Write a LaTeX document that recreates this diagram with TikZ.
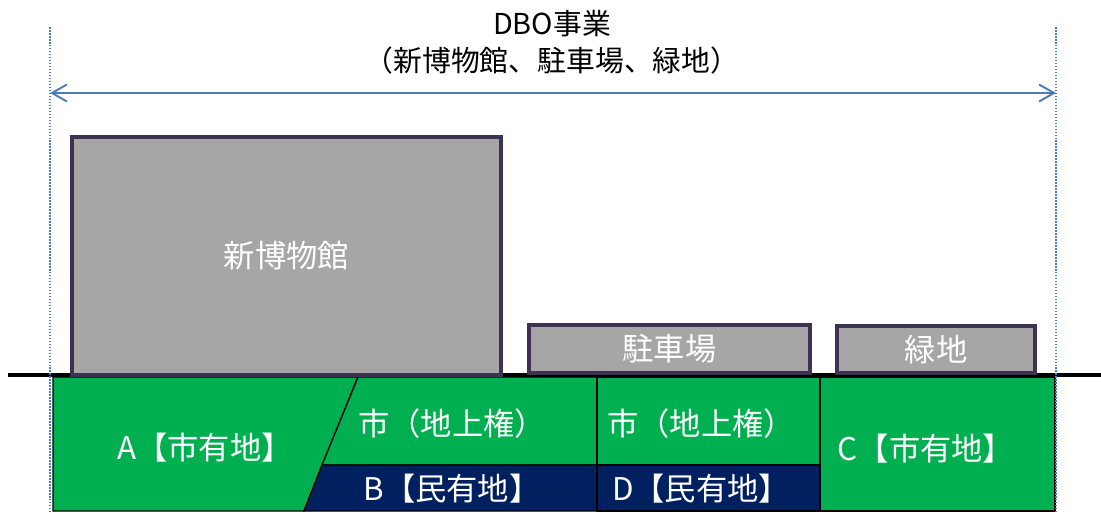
\documentclass[tikz,border=0pt]{standalone}
\usepackage{fontspec}
\setmainfont{Noto Sans CJK JP}
\usepackage{xcolor}
\usepackage{tikz}
\usetikzlibrary{arrows.meta,positioning}
\definecolor{landgreen}{RGB}{0,176,80}
\definecolor{landnavy}{RGB}{0,32,96}
\definecolor{bldggray}{RGB}{166,166,166}
\definecolor{bldgedge}{RGB}{63,49,81}
\definecolor{rangeblue}{RGB}{74,126,187}
\tikzset{
  % 建物の箱
  bldg/.style={
    draw=bldgedge,
    line width=1.9pt,
    fill=bldggray,
    text=white,
    inner sep=0pt,
    font=\fontsize{17.8pt}{21pt}\selectfont
  },
  % 土地の区画
  lot/.style={draw=black, line width=0.8pt},
  lotlab/.style={text=white, font=\fontsize{17.8pt}{21pt}\selectfont},
  % 範囲の矢印
  rangearr/.style={
    {Straight Barb[length=0.3cm,width=0.34cm]}-{Straight Barb[length=0.3cm,width=0.34cm]},
    line width=1.1pt, rangeblue
  },
  rangeedge/.style={rangeblue, line width=1pt, dash pattern=on 0.9pt off 0.8pt},
  titlelab/.style={font=\fontsize{16.4pt}{19pt}\selectfont, text=black},
}

\begin{document}
\begin{tikzpicture}[x=0.02cm, y=-0.02cm]
    \useasboundingbox (0,0) rectangle (1101,516);

    % 事業範囲
    \node[titlelab] (title) at (552,24) {DBO事業};
    \node[titlelab] (subtitle) at (552,61) {（新博物館、駐車場、緑地）};

    \coordinate (ltop) at (50,27);
    \coordinate (lbot) at (50,511);
    \coordinate (rtop) at (1056,27);
    \coordinate (rbot) at (1056,511);
    \coordinate (larr) at (50,93);
    \coordinate (rarr) at (1056,93);

    % 土地の区画
    \filldraw[lot, fill=landgreen] (53,377) -- (358,377) -- (304,511) -- (53,511) -- cycle;
    \filldraw[lot, fill=landgreen] (358,377) -- (597,377) -- (597,465) -- (322,465) -- cycle;
    \filldraw[lot, fill=landnavy] (322,465) -- (597,465) -- (597,511) -- (304,511) -- cycle;
    \filldraw[lot, fill=landgreen] (597,377) rectangle (820,465);
    \filldraw[lot, fill=landnavy] (597,465) rectangle (820,511);
    \filldraw[lot, fill=landgreen] (820,377) rectangle (1055,511);

    \node[lotlab] (lotA) at (205,448) {A【市有地】};
    \node[lotlab] (superL) at (452,424) {市（地上権）};
    \node[lotlab] (lotB) at (452,489) {B【民有地】};
    \node[lotlab] (superR) at (701,424) {市（地上権）};
    \node[lotlab] (lotD) at (701,489) {D【民有地】};
    \node[lotlab] (lotC) at (926,449) {C【市有地】};

    % 地盤線
    \coordinate (gleft) at (8,375);
    \coordinate (gright) at (1101,375);
    \draw[line width=2.4pt] (gleft) -- (gright);

    % 建物
    \node[bldg, minimum width=8.58cm, minimum height=4.76cm] (museum) at (286.5,256) {新博物館};
    \node[bldg, minimum width=5.62cm, minimum height=0.96cm] (parking) at (669.5,349) {駐車場};
    \node[bldg, minimum width=3.96cm, minimum height=0.94cm] (greenery) at (936,349.5) {緑地};

    \draw[rangeedge] (ltop) -- (lbot);
    \draw[rangeedge] (rtop) -- (rbot);
    \draw[rangearr] (larr) -- (rarr);
\end{tikzpicture}
\end{document}
